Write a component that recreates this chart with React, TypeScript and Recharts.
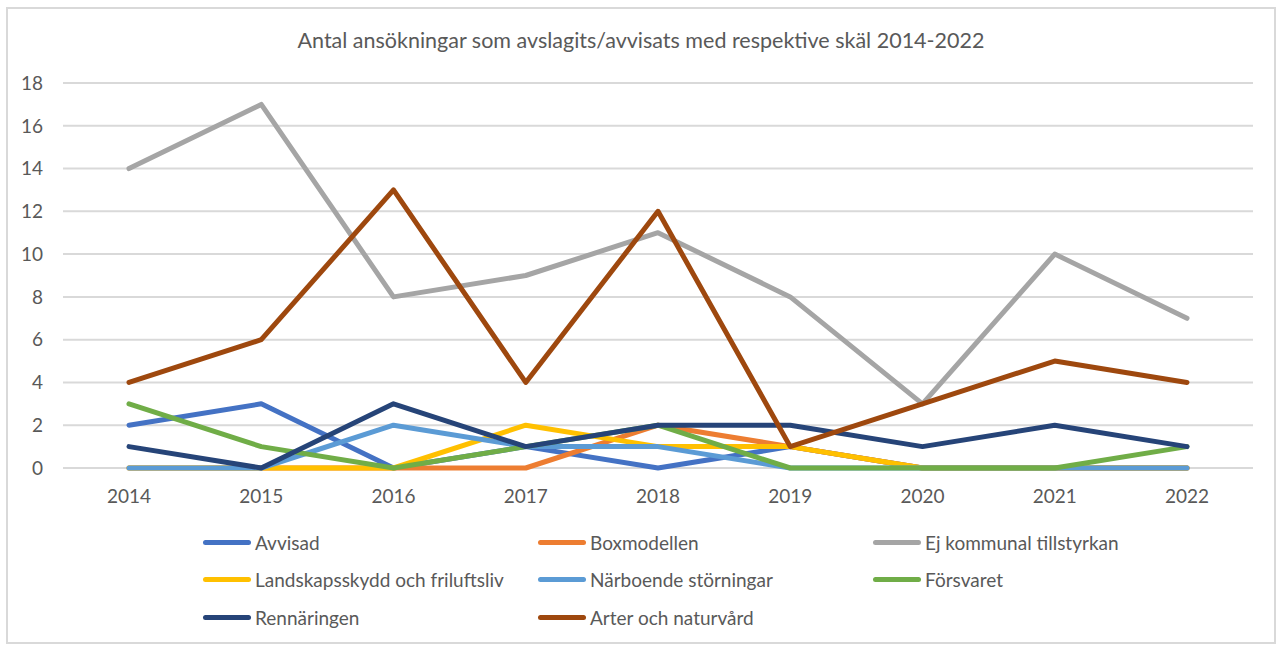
import React from "react";
import { LineChart, Line, XAxis, YAxis, CartesianGrid, Legend } from "recharts";

const years = ["2014", "2015", "2016", "2017", "2018", "2019", "2020", "2021", "2022"];
const avvisad = [2, 3, 0, 1, 0, 1, 0, 0, 0];
const boxmodellen = [0, 0, 0, 0, 2, 1, 0, 0, 0];
const ejKommunal = [14, 17, 8, 9, 11, 8, 3, 10, 7];
const landskapsskydd = [0, 0, 0, 2, 1, 1, 0, 0, 0];
const narboende = [0, 0, 2, 1, 1, 0, 0, 0, 0];
const forsvaret = [3, 1, 0, 1, 2, 0, 0, 0, 1];
const rennaringen = [1, 0, 3, 1, 2, 2, 1, 2, 1];
const arter = [4, 6, 13, 4, 12, 1, 3, 5, 4];
const yTicks = [0, 2, 4, 6, 8, 10, 12, 14, 16, 18];

const series = [
  { key: "Avvisad", values: avvisad, color: "#4472C4" },
  { key: "Boxmodellen", values: boxmodellen, color: "#ED7D31" },
  { key: "Ej kommunal tillstyrkan", values: ejKommunal, color: "#A5A5A5" },
  { key: "Landskapsskydd och friluftsliv", values: landskapsskydd, color: "#FFC000" },
  { key: "Närboende störningar", values: narboende, color: "#5B9BD5" },
  { key: "Försvaret", values: forsvaret, color: "#70AD47" },
  { key: "Rennäringen", values: rennaringen, color: "#264478" },
  { key: "Arter och naturvård", values: arter, color: "#9E480E" },
];

const data = years.map((y, i) => {
  const row: Record<string, string | number> = { year: y };
  series.forEach((s) => {
    row[s.key] = s.values[i];
  });
  return row;
});

const FONT = "Lato, 'Open Sans', sans-serif";
const TEXT = "#595959";

const renderLegend = () => (
  <div style={{ position: "relative", width: 1282, height: 0 }}>
    {series.map((s, i) => {
      const col = i % 3;
      const row = Math.floor(i / 3);
      return (
        <div
          key={s.key}
          style={{
            position: "absolute",
            left: 203 + col * 335,
            top: row * 37.5,
            display: "flex",
            alignItems: "center",
            height: 34,
            whiteSpace: "nowrap",
          }}
        >
          <div style={{ width: 48, height: 5, borderRadius: 3, background: s.color }} />
          <span style={{ marginLeft: 4, fontFamily: FONT, fontSize: 19, color: TEXT }}>{s.key}</span>
        </div>
      );
    })}
  </div>
);

export default function App() {
  return (
    <div style={{ position: "absolute", left: 0, top: 0, width: 1282, height: 647, background: "#fff" }}>
      <div
        style={{
          position: "absolute",
          left: 6,
          top: 7,
          width: 1270,
          height: 637,
          border: "2px solid #D9D9D9",
          boxSizing: "border-box",
        }}
      />
      <div
        style={{
          position: "absolute",
          left: 0,
          top: 27,
          width: 1282,
          textAlign: "center",
          fontFamily: FONT,
          fontSize: 21.5,
          color: TEXT,
        }}
      >
        Antal ansökningar som avslagits/avvisats med respektive skäl 2014-2022
      </div>
      <div style={{ position: "absolute", left: 0, top: 0 }}>
        <LineChart
          width={1282}
          height={647}
          data={data}
          margin={{ top: 83, right: 29, bottom: 149, left: 0 }}
        >
          <CartesianGrid vertical={false} stroke="#D9D9D9" strokeWidth={2} />
          <XAxis
            dataKey="year"
            height={30}
            axisLine={false}
            tickLine={false}
            tickSize={0}
            tickMargin={22}
            interval={0}
            padding={{ left: 66, right: 66 }}
            tick={{ fill: TEXT, fontSize: 19, fontFamily: FONT }}
          />
          <YAxis
            width={63}
            domain={[0, 18]}
            ticks={yTicks}
            interval={0}
            axisLine={false}
            tickLine={false}
            tickSize={0}
            tickMargin={20}
            tick={{ fill: TEXT, fontSize: 19, fontFamily: FONT }}
          />
          <Legend
            content={renderLegend}
            layout="horizontal"
            verticalAlign="middle"
            align="center"
            wrapperStyle={{ left: 0, top: 525, width: 1282, height: 0 }}
          />
          {series.map((s) => (
            <Line
              key={s.key}
              type="linear"
              dataKey={s.key}
              stroke={s.color}
              strokeWidth={5}
              strokeLinecap="round"
              strokeLinejoin="round"
              dot={false}
              activeDot={false}
              isAnimationActive={false}
            />
          ))}
        </LineChart>
      </div>
    </div>
  );
}
